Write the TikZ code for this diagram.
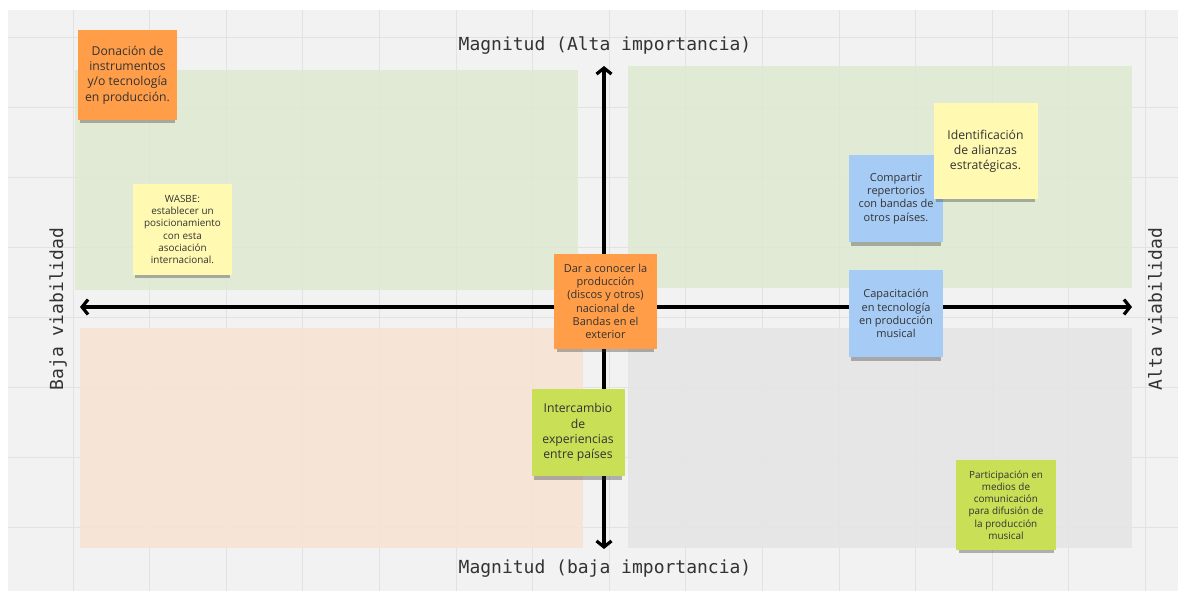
\documentclass[tikz,border=0pt]{standalone}
\usepackage{fontspec}
\setmainfont{Open Sans}
\setmonofont{DejaVu Sans Mono}
\usetikzlibrary{arrows.meta,shadows}

\definecolor{canvasgray}{HTML}{F2F2F2}
\definecolor{gridgray}{HTML}{E2E2E2}
\definecolor{quadgreen}{HTML}{DDE9D1}
\definecolor{quadpeach}{HTML}{F7E3D3}
\definecolor{quadgray}{HTML}{E5E5E5}
\definecolor{noteorange}{HTML}{FF9D48}
\definecolor{noteyellow}{HTML}{FFF9B1}
\definecolor{noteblue}{HTML}{A6CCF5}
\definecolor{notegreen}{HTML}{C9DF56}
\definecolor{notetext}{HTML}{333333}

\tikzset{
  note/.style={inner sep=0pt, align=center, text=notetext,
    drop shadow={shadow xshift=0pt, shadow yshift=-6pt, shadow scale=0.95,
      opacity=0.35, fill=black!80}},
  bignote/.style={note, font=\fontsize{12.2}{15.2}\selectfont},
  midnote/.style={note, font=\fontsize{11}{13.3}\selectfont},
  smallnote/.style={note, font=\fontsize{9.9}{12.2}\selectfont},
  axis/.style={line width=3.2pt, {Straight Barb[length=6pt,width=15pt]}-{Straight Barb[length=6pt,width=15pt]}},
  axislabel/.style={text=notetext, font=\ttfamily\fontsize{18}{20}\selectfont},
  quad/.style={draw=none, fill opacity=0.85}
}

\begin{document}
\begin{tikzpicture}[x=1pt, y=-1pt]
  \useasboundingbox[fill=white] (0,0) rectangle (1180,594);
  \fill[canvasgray] (8,10) rectangle (1178,591);

  % grid
  \foreach \gx in {0,...,14}
    \draw[gridgray, line width=0.9pt] ({73+76.6*\gx},10) -- ({73+76.6*\gx},591);
  \foreach \gy in {0,...,7}
    \draw[gridgray, line width=0.9pt] (8,{37+70*\gy}) -- (1178,{37+70*\gy});

  % quadrants
  \fill[quad, quadgreen] (75,70) rectangle (578,290);
  \fill[quad, quadgreen] (628,66) rectangle (1132,288);
  \fill[quad, quadpeach] (80,328) rectangle (583,548);
  \fill[quad, quadgray] (628,328) rectangle (1132,548);

  % axes
  \coordinate (west) at (80,307);
  \coordinate (east) at (1132,307);
  \coordinate (north) at (604,66);
  \coordinate (south) at (604,549);
  \draw[axis] (west) -- (east);
  \draw[axis] (south) -- (north);

  \node[axislabel] (top) at (605,46) {Magnitud (Alta importancia)};
  \node[axislabel] (bottom) at (605,569) {Magnitud (baja importancia)};
  \node[axislabel, rotate=90] (left) at (58,309) {Baja viabilidad};
  \node[axislabel, rotate=90] (right) at (1155,309) {Alta viabilidad};

  % sticky notes
  \node[bignote, fill=noteorange, minimum width=99pt, minimum height=90pt] (donacion) at (127.5,75)
    {Donación de\\instrumentos\\y/o tecnología\\en producción.};
  \node[smallnote, fill=noteyellow, minimum width=99pt, minimum height=91pt] (wasbe) at (182.5,229.5)
    {WASBE:\\establecer un\\posicionamiento\\con esta\\asociación\\internacional.};
  \node[midnote, fill=noteorange, minimum width=103pt, minimum height=95pt] (daraconocer) at (605.5,301.5)
    {Dar a conocer la\\producción\\(discos y otros)\\nacional de\\Bandas en el\\exterior};
  \node[bignote, fill=notegreen, minimum width=93pt, minimum height=87pt] (intercambio) at (578,432.5)
    {Intercambio\\de\\experiencias\\entre países};
  \node[midnote, fill=noteblue, minimum width=94pt, minimum height=87pt] (compartir) at (896,198.5)
    {Compartir\\repertorios\\con bandas de\\otros países.};
  \node[bignote, fill=noteyellow, minimum width=104pt, minimum height=96pt] (alianzas) at (985.5,151)
    {Identificación\\de alianzas\\estratégicas.};
  \node[midnote, fill=noteblue, minimum width=94pt, minimum height=87pt] (capacitacion) at (896,313.5)
    {Capacitación\\en tecnología\\en producción\\musical};
  \node[smallnote, fill=notegreen, minimum width=100pt, minimum height=90pt] (participacion) at (1006,505)
    {Participación en\\medios de\\comunicación\\para difusión de\\la producción\\musical};
\end{tikzpicture}
\end{document}
